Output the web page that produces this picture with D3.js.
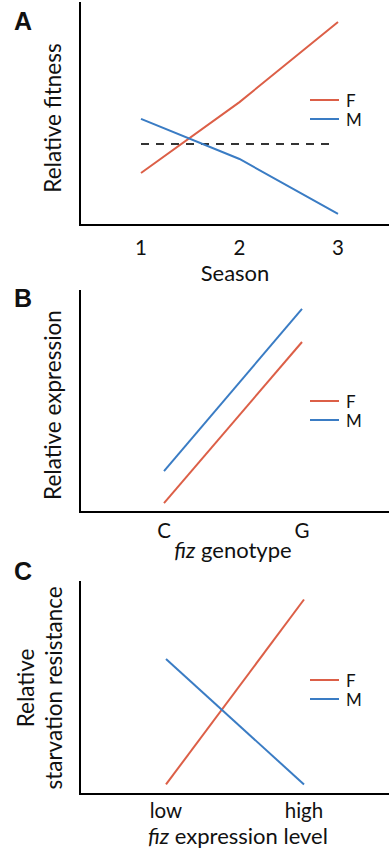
<!DOCTYPE html>
<html>
<head>
<meta charset="utf-8">
<script src="https://cdn.jsdelivr.net/npm/d3@7"></script>
<style>
  body { margin: 0; background: #fff; }
  text { font-family: Lato, "Open Sans", sans-serif; fill: #111; }
</style>
</head>
<body>
<svg id="chart" width="389" height="850"></svg>
<script>
// panel A: relative fitness over seasons
const seasons = [1, 2, 3];
const fitnessF = [0.244, 0.577, 0.953];
const fitnessM = [0.498, 0.31, 0.052];
const fitnessRef = 0.38;

// panel B: relative expression by genotype
const genotypes = ["C", "G"];
const expressionF = [0.042, 0.802];
const expressionM = [0.193, 0.958];

// panel C: starvation resistance by expression level
const levels = ["low", "high"];
const starvationF = [0.047, 0.958];
const starvationM = [0.665, 0.047];

const sexes = ["F", "M"];
const colors = {F: "#dc5f47", M: "#3a7cc4"};

const svg = d3.select("#chart");

function panel(opts) {
  const g = svg.append("g");
  const y = d3.scaleLinear().domain([0, 1]).range([opts.bottom, opts.top]);
  const x = opts.x;

  // axes (no ticks, plain L shape)
  g.append("line")
    .attr("x1", 80).attr("x2", 80)
    .attr("y1", opts.top - 10).attr("y2", opts.bottom + 1)
    .attr("stroke", "#000").attr("stroke-width", 2);
  g.append("line")
    .attr("x1", 79).attr("x2", 389)
    .attr("y1", opts.bottom).attr("y2", opts.bottom)
    .attr("stroke", "#000").attr("stroke-width", 2.2);

  // tick labels
  g.selectAll(".tick")
    .data(opts.cats)
    .enter().append("text")
    .attr("x", d => x(d))
    .attr("y", opts.bottom + opts.tickDy)
    .attr("text-anchor", "middle")
    .style("font-size", "20.5px")
    .text(d => d);

  if (opts.ref !== undefined) {
    g.append("line")
      .attr("x1", x(opts.cats[0])).attr("x2", 332)
      .attr("y1", y(opts.ref)).attr("y2", y(opts.ref))
      .attr("stroke", "#333").attr("stroke-width", 2)
      .attr("stroke-dasharray", "8,7");
  }

  const line = d3.line().x(d => x(d[0])).y(d => y(d[1]));
  sexes.forEach(s => {
    const vals = opts.series[s];
    g.append("path")
      .datum(opts.cats.map((c, i) => [c, vals[i]]))
      .attr("d", line)
      .attr("fill", "none")
      .attr("stroke", colors[s])
      .attr("stroke-width", 2);
  });

  // legend
  sexes.forEach((s, i) => {
    const ly = opts.legendY + i * 19;
    g.append("line")
      .attr("x1", 310).attr("x2", 339)
      .attr("y1", ly).attr("y2", ly)
      .attr("stroke", colors[s]).attr("stroke-width", 2);
    g.append("text")
      .attr("x", 346).attr("y", ly + 6.5)
      .style("font-size", "17px")
      .text(s);
  });

  // panel letter
  g.append("text")
    .attr("x", 14).attr("y", opts.top + opts.letterDy)
    .style("font-family", "'Liberation Sans', Arial, sans-serif")
    .style("font-weight", "bold")
    .style("font-size", "25px")
    .text(opts.letter);

  return g;
}

// A
const xA = d3.scaleLinear().domain([1, 3]).range([141, 338]);
const gA = panel({
  top: 12, bottom: 225, x: xA, cats: seasons, tickDy: 30,
  series: {F: fitnessF, M: fitnessM}, ref: fitnessRef,
  legendY: 100, letter: "A", letterDy: 18
});
gA.append("text").attr("x", 235).attr("y", 281).attr("text-anchor", "middle")
  .style("font-size", "22px").text("Season");
gA.append("text").attr("transform", "translate(61,118) rotate(-90)")
  .attr("text-anchor", "middle").style("font-size", "22.5px").text("Relative fitness");

// B
const xB = d3.scalePoint().domain(genotypes).range([164, 302]);
const gB = panel({
  top: 300, bottom: 512, x: xB, cats: genotypes, tickDy: 26,
  series: {F: expressionF, M: expressionM},
  legendY: 401, letter: "B", letterDy: 7
});
gB.append("text").attr("x", 233).attr("y", 558).attr("text-anchor", "middle")
  .style("font-size", "22px")
  .html("<tspan font-style='italic'>fiz</tspan> genotype");
gB.append("text").attr("transform", "translate(61,405) rotate(-90)")
  .attr("text-anchor", "middle").style("font-size", "22.5px").text("Relative expression");

// C
const xC = d3.scalePoint().domain(levels).range([166, 304]);
const gC = panel({
  top: 591, bottom: 794, x: xC, cats: levels, tickDy: 24,
  series: {F: starvationF, M: starvationM},
  legendY: 680, letter: "C", letterDy: -11
});
gC.append("text").attr("x", 238).attr("y", 844).attr("text-anchor", "middle")
  .style("font-size", "22px")
  .html("<tspan font-style='italic'>fiz</tspan> expression level");
gC.append("text").attr("transform", "translate(34,688) rotate(-90)")
  .attr("text-anchor", "middle").style("font-size", "22.5px").text("Relative");
gC.append("text").attr("transform", "translate(62,688) rotate(-90)")
  .attr("text-anchor", "middle").style("font-size", "22.5px").text("starvation resistance");
</script>
</body>
</html>
